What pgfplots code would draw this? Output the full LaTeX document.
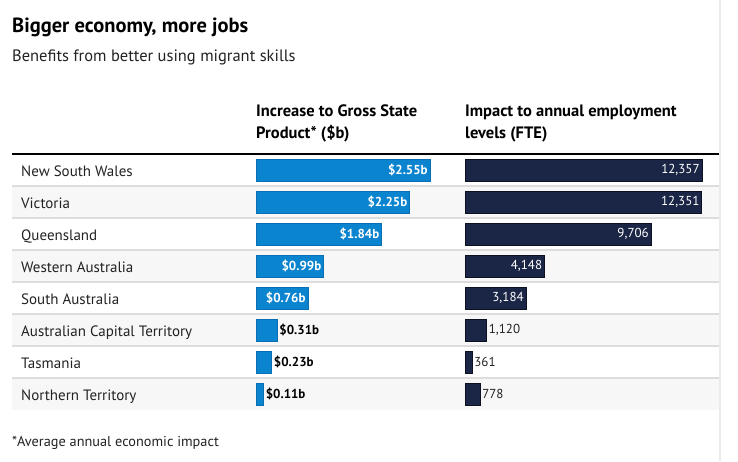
\documentclass[border=0pt]{standalone}
\usepackage{pgfplots}
\pgfplotsset{compat=1.18}
\usepackage{fontspec}
\setmainfont{PT Sans}
\definecolor{barblue}{HTML}{0A84CF}
\definecolor{barblueedge}{HTML}{0A6FB2}
\definecolor{navy}{HTML}{1B2646}
\definecolor{navyedge}{HTML}{0B1123}
\definecolor{rowgray}{HTML}{F7F7F7}
\definecolor{sepgray}{HTML}{DDDDDD}
\definecolor{bordergray}{HTML}{EBEBEB}
\definecolor{txt}{HTML}{222222}
\begin{document}
\begin{tikzpicture}[x=1pt,y=1pt]
\useasboundingbox (0,0) rectangle (738,461);
\coordinate (GSP) at (256,51);
\coordinate (FTE) at (465,51);
% row backgrounds (image y: rows from 154, each 32 px)
\foreach \i in {2,4,6,8} {
  \fill[rowgray] (12,{461-154-32*\i}) rectangle (720,{461-154-32*(\i-1)});
}
\foreach \i in {1,...,7} {
  \draw[sepgray,line width=1.5pt] (12,{461-154-32*\i}) -- (720,{461-154-32*\i});
}
\draw[black,line width=2.5pt] (12,{461-154}) -- (720,{461-154});
\draw[bordergray,line width=1.5pt] (720,0) -- (720,461);
% titles
\node[anchor=base west,inner sep=0pt,font=\fontsize{20.5}{24}\selectfont\bfseries,text=black] at (12,{461-33}) {Bigger economy, more jobs};
\node[anchor=base west,inner sep=0pt,font=\fontsize{16.5}{19}\selectfont,text=txt] at (12,{461-62}) {Benefits from better using migrant skills};
\node[anchor=base west,inner sep=0pt,font=\fontsize{16.5}{19}\selectfont\bfseries,text=black] at (256,{461-117}) {Increase to Gross State};
\node[anchor=base west,inner sep=0pt,font=\fontsize{16.5}{19}\selectfont\bfseries,text=black] at (256,{461-139}) {Product* (\$b)};
\node[anchor=base west,inner sep=0pt,font=\fontsize{16.5}{19}\selectfont\bfseries,text=black] at (465,{461-117}) {Impact to annual employment};
\node[anchor=base west,inner sep=0pt,font=\fontsize{16.5}{19}\selectfont\bfseries,text=black] at (465,{461-139}) {levels (FTE)};
\node[anchor=base west,inner sep=0pt,font=\fontsize{14.3}{17}\selectfont,text=txt] at (12,{461-446}) {*Average annual economic impact};
% row labels
\foreach \name [count=\i] in {New South Wales,Victoria,Queensland,Western Australia,South Australia,Australian Capital Territory,Tasmania,Northern Territory} {
  \node[anchor=base west,inner sep=0pt,font=\fontsize{15}{18}\selectfont,text=txt] at (21,{461-170-32*(\i-1)-6.5}) {\name};
}
% GSP axis
\begin{axis}[
  at={(GSP)}, anchor=south west,
  scale only axis, width=174pt, height=256pt,
  xmin=0, xmax=2.55, ymin=0.5, ymax=8.5, y dir=reverse,
  hide axis, clip=false,
  xbar, bar width=22pt, bar shift=0pt,
  point meta=x,
  /pgf/number format/assume math mode=true,
  nodes near coords={\$\pgfmathprintnumber[fixed,fixed zerofill,precision=2]{\pgfplotspointmeta}b},
]
\addplot[fill=barblue, draw=barblueedge, line width=0.6pt,
  every node near coord/.append style={anchor=east, text=white, font=\fontsize{13}{15}\selectfont\bfseries, inner sep=2pt}]
  coordinates {(2.55,1) (2.25,2) (1.84,3) (0.99,4) (0.76,5)};
\addplot[fill=barblue, draw=barblueedge, line width=0.6pt,
  every node near coord/.append style={anchor=west, text=black, font=\fontsize{13}{15}\selectfont\bfseries, inner sep=2pt}]
  coordinates {(0.31,6) (0.23,7) (0.11,8)};
\end{axis}
% FTE axis
\begin{axis}[
  at={(FTE)}, anchor=south west,
  scale only axis, width=237pt, height=256pt,
  xmin=0, xmax=12357, ymin=0.5, ymax=8.5, y dir=reverse,
  hide axis, clip=false,
  xbar, bar width=22pt, bar shift=0pt,
  point meta=x,
  /pgf/number format/assume math mode=true,
  nodes near coords={\pgfmathprintnumber[fixed,precision=0,1000 sep={,}]{\pgfplotspointmeta}},
]
\addplot[fill=navy, draw=navyedge, line width=0.8pt,
  every node near coord/.append style={anchor=east, text=white, font=\fontsize{13}{15}\selectfont, inner sep=2pt}]
  coordinates {(12357,1) (12351,2) (9706,3) (4148,4) (3184,5)};
\addplot[fill=navy, draw=navyedge, line width=0.8pt,
  every node near coord/.append style={anchor=west, text=txt, font=\fontsize{13}{15}\selectfont, inner sep=2pt}]
  coordinates {(1120,6) (361,7) (778,8)};
\end{axis}
\end{tikzpicture}
\end{document}
